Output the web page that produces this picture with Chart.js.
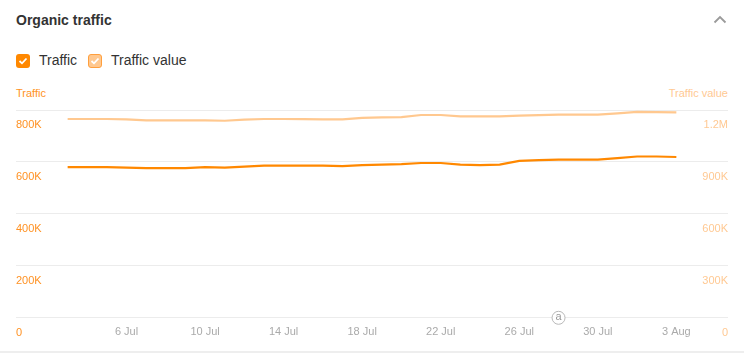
<!DOCTYPE html>
<html><head><meta charset="utf-8">
<script src="https://cdn.jsdelivr.net/npm/chart.js@4.4.1/dist/chart.umd.min.js"></script>
<style>
html,body{margin:0;padding:0;background:#fff}
body{width:744px;height:353px;overflow:hidden;position:relative;font-family:"Liberation Sans",Arial,sans-serif}
.title{position:absolute;left:16px;top:12px;font-size:14px;font-weight:bold;color:#333;line-height:17px}
.chev{position:absolute;left:713px;top:15px}
.leg{position:absolute;top:52px;font-size:14px;color:#333;line-height:17px;display:flex;align-items:center}
.cb{width:14px;height:14px;border-radius:3px;box-sizing:border-box;margin-right:9px;display:flex;align-items:center;justify-content:center}
.axt{position:absolute;top:87px;font-size:11px;line-height:13px}
#wrap{position:absolute;left:0;top:0;width:744px;height:353px}
.bottom{position:absolute;left:0;top:351px;width:744px;height:2px;background:#eeeeee}
</style></head>
<body>
<div class="title">Organic traffic</div>
<svg class="chev" width="14" height="9" viewBox="0 0 14 9"><polyline points="1.5,7.5 7,2 12.5,7.5" fill="none" stroke="#9a9a9a" stroke-width="1.8"/></svg>
<div class="leg" style="left:16px"><div class="cb" style="background:#ff8800"><svg width="10" height="8" viewBox="0 0 10 8"><polyline points="1.5,4 4,6.3 8.5,1.5" fill="none" stroke="#fff" stroke-width="1.8"/></svg></div>Traffic</div>
<div class="leg" style="left:88px"><div class="cb" style="background:#ffc88f;border:1.5px solid #ff9f3d"><svg width="10" height="8" viewBox="0 0 10 8"><polyline points="1.5,4 4,6.3 8.5,1.5" fill="none" stroke="#fff" stroke-width="1.8"/></svg></div>Traffic value</div>
<div class="axt" style="left:16px;color:#ff9224">Traffic</div>
<div class="axt" style="right:16px;color:#ffc993">Traffic value</div>
<div id="wrap"><canvas id="c"></canvas></div>
<div class="bottom"></div>
<script>
const dates = ['3 Jul','4 Jul','5 Jul','6 Jul','7 Jul','8 Jul','9 Jul','10 Jul','11 Jul','12 Jul','13 Jul','14 Jul','15 Jul','16 Jul','17 Jul','18 Jul','19 Jul','20 Jul','21 Jul','22 Jul','23 Jul','24 Jul','25 Jul','26 Jul','27 Jul','28 Jul','29 Jul','30 Jul','31 Jul','1 Aug','2 Aug','3 Aug'];
const traffic = [580000,580000,580000,578000,576000,576000,576000,580000,578000,582000,586000,586000,586000,586000,584000,588000,590000,592000,596000,596000,590000,588000,590000,604000,607000,609000,609000,609000,615000,621000,621000,619000];
const trafficValue = [1148000,1148000,1148000,1146000,1140000,1140000,1140000,1140000,1138000,1144000,1148000,1148000,1147000,1146000,1146000,1154000,1157000,1159000,1171000,1171000,1163000,1163000,1163000,1167000,1170000,1173000,1173000,1173000,1180000,1189000,1188000,1186000];
const xTickDates = ['6 Jul','10 Jul','14 Jul','18 Jul','22 Jul','26 Jul','30 Jul','3 Aug'];
const leftTicks = [0,200000,400000,600000,800000];
const rightTicks = [0,300000,600000,900000,1200000];
const annotationDate = '28 Jul';

const fmt = v => v === 0 ? '0' : (v >= 1e6 ? (v/1e6) + 'M' : (v/1000) + 'K');
const toPts = arr => arr.map((v,i) => ({x:i, y:v}));
const xTickIdx = xTickDates.map(d => dates.indexOf(d));

const annot = {
  id:'annot',
  afterDatasetsDraw(chart){
    const ctx = chart.ctx;
    const x = chart.scales.x.getPixelForValue(dates.indexOf(annotationDate));
    const y = chart.scales.y.getPixelForValue(0);
    ctx.save();
    ctx.beginPath();
    ctx.arc(x, y, 6.5, 0, Math.PI*2);
    ctx.fillStyle = '#fff'; ctx.fill();
    ctx.strokeStyle = '#b8b8b8'; ctx.lineWidth = 1; ctx.stroke();
    ctx.fillStyle = '#999'; ctx.font = '11px "Liberation Sans", Arial';
    ctx.textAlign = 'center'; ctx.textBaseline = 'middle';
    ctx.fillText('a', x, y - 0.5);
    ctx.restore();
  }
};

new Chart(document.getElementById('c'), {
  type:'line',
  data:{datasets:[
    {label:'Traffic value', data: toPts(trafficValue), yAxisID:'y1', borderColor:'#ffc88f', borderWidth:2.2, pointRadius:0, tension:0, order:2},
    {label:'Traffic', data: toPts(traffic), yAxisID:'y', borderColor:'#ff8800', borderWidth:2.2, pointRadius:0, tension:0, order:1}
  ]},
  options:{
    responsive:true, maintainAspectRatio:false, animation:false,
    layout:{padding:{left:16,right:16,top:110,bottom:6}},
    plugins:{legend:{display:false}, tooltip:{enabled:false}},
    scales:{
      x:{type:'linear', min:-2.63, max:dates.length-1+2.63,
        grid:{display:false, drawTicks:false}, border:{display:false},
        afterBuildTicks: s => { s.ticks = xTickIdx.map(v => ({value:v})); },
        ticks:{autoSkip:false, maxRotation:0, padding:8, color:'#aaa', font:{size:11, family:'"Liberation Sans", Arial'}, callback: v => dates[v]}
      },
      y:{position:'left', min:0, max:800000,
        afterBuildTicks: s => { s.ticks = leftTicks.map(v => ({value:v})); },
        grid:{color:'#ececec', lineWidth:1, drawTicks:false}, border:{display:false},
        ticks:{mirror:true, padding:0, labelOffset:15, color:'#ff9224', font:{size:11, family:'"Liberation Sans", Arial'}, callback: fmt}
      },
      y1:{position:'right', min:0, max:1200000,
        afterBuildTicks: s => { s.ticks = rightTicks.map(v => ({value:v})); },
        grid:{display:false, drawTicks:false}, border:{display:false},
        ticks:{mirror:true, padding:0, labelOffset:15, color:'#ffc993', font:{size:11, family:'"Liberation Sans", Arial'}, callback: fmt}
      }
    }
  },
  plugins:[annot]
});
</script>
</body></html>
